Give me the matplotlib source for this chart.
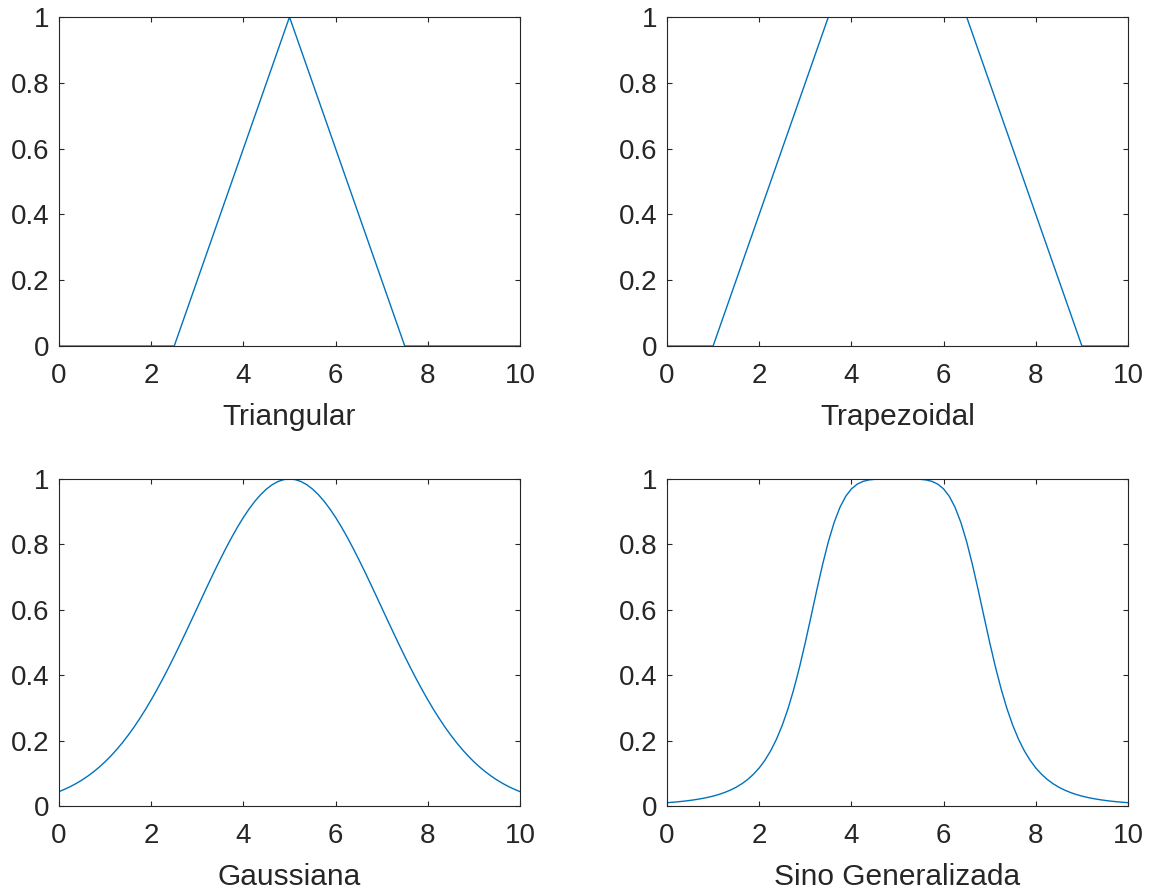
import matplotlib
matplotlib.use('Agg')
import numpy as np
import matplotlib.pyplot as plt

plt.rcParams['font.family'] = ['Liberation Sans', 'DejaVu Sans']

# membership function data
tri_x = [0, 2.5, 5, 7.5, 10]
tri_y = [0, 0, 1, 0, 0]

trap_x = [0, 1, 3.5, 6.5, 9, 10]
trap_y = [0, 0, 1, 1, 0, 0]

# sample grid for the smooth curves, x = 0 .. 10 step 0.125
smooth_x = np.linspace(0, 10, 81)

# left half (x = 0 .. 5), curves are symmetric about x = 5
gauss_half = [0.0439, 0.0513, 0.0596, 0.0690, 0.0796, 0.0914, 0.1046, 0.1192,
              0.1353, 0.1531, 0.1724, 0.1935, 0.2163, 0.2408, 0.2671, 0.2950,
              0.3247, 0.3559, 0.3886, 0.4226, 0.4578, 0.4941, 0.5311, 0.5687,
              0.6065, 0.6444, 0.6820, 0.7189, 0.7548, 0.7895, 0.8226, 0.8537,
              0.8825, 0.9087, 0.9321, 0.9523, 0.9692, 0.9826, 0.9922, 0.9981,
              1.0]
gauss_y = gauss_half + gauss_half[-2::-1]

bell_half = [0.0101, 0.0115, 0.0131, 0.0149, 0.0171, 0.0196, 0.0226, 0.0261,
             0.0303, 0.0353, 0.0414, 0.0486, 0.0574, 0.0681, 0.0811, 0.0970,
             0.1164, 0.1401, 0.1691, 0.2043, 0.2468, 0.2975, 0.3569, 0.4248,
             0.5000, 0.5800, 0.6610, 0.7385, 0.8082, 0.8669, 0.9129, 0.9467,
             0.9697, 0.9842, 0.9926, 0.9970, 0.9990, 0.9998, 1.0, 1.0,
             1.0]
bell_y = bell_half + bell_half[-2::-1]

titles = ['Triangular', 'Trapezoidal', 'Gaussiana', 'Sino Generalizada']
series = [(tri_x, tri_y), (trap_x, trap_y), (smooth_x, gauss_y), (smooth_x, bell_y)]

W, H = 1152, 890
fig = plt.figure(figsize=(W / 100, H / 100), dpi=100)
boxes = [(59, 17, 520, 346), (667, 17, 1128, 346),
         (59, 479, 520, 806), (667, 479, 1128, 806)]

txt = '#262626'
for (x0, y0, x1, y1), (xs, ys), name in zip(boxes, series, titles):
    ax = fig.add_axes([x0 / W, 1 - y1 / H, (x1 - x0) / W, (y1 - y0) / H])
    ax.plot(xs, ys, color='#0072BD', lw=1.0)
    ax.set_xlim(0, 10)
    ax.set_ylim(0, 1)
    ax.set_xticks([0, 2, 4, 6, 8, 10])
    ax.set_yticks([0, 0.2, 0.4, 0.6, 0.8, 1])
    ax.set_yticklabels(['0', '0.2', '0.4', '0.6', '0.8', '1'])
    ax.tick_params(direction='in', top=True, right=True, length=3.6,
                   width=0.8, colors=txt, labelsize=20)
    ax.tick_params(axis='x', pad=12)
    ax.tick_params(axis='y', pad=7)
    for s in ax.spines.values():
        s.set_color(txt)
        s.set_linewidth(0.8)
    ax.set_xlabel(name, fontsize=21.5, color=txt, labelpad=10)

fig.savefig('out.png', dpi=100)
